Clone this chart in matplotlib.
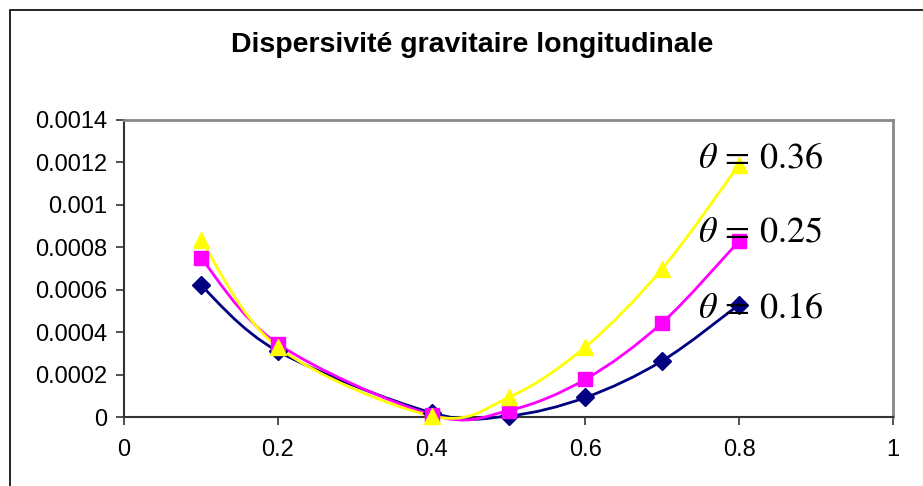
import numpy as np
import matplotlib
matplotlib.use("Agg")
import matplotlib.pyplot as plt
from matplotlib.patches import Rectangle
from matplotlib.path import Path
from matplotlib.patches import PathPatch

plt.rcParams['font.family'] = ['Liberation Sans', 'DejaVu Sans']
plt.rcParams['mathtext.fontset'] = 'stix'

title = "Dispersivité gravitaire longitudinale"
x_vals = [0.1, 0.2, 0.4, 0.5, 0.6, 0.7, 0.8]
y_016 = [0.00062, 0.00031, 0.00002, 0.000005, 0.000092, 0.000265, 0.00053]
y_025 = [0.00075, 0.000345, 0.00001, 0.00003, 0.000178, 0.000445, 0.00083]
y_036 = [0.000835, 0.00033, 0.000005, 0.000092, 0.00033, 0.0007, 0.00119]
labels = [r'$\theta\,=\,0.36$', r'$\theta\,=\,0.25$', r'$\theta\,=\,0.16$']
label_pos = [(0.746, 0.00122), (0.746, 0.000872), (0.746, 0.000515)]
x_ticks = [0, 0.2, 0.4, 0.6, 0.8, 1]
x_ticklabels = ["0", "0.2", "0.4", "0.6", "0.8", "1"]
y_ticks = [0, 0.0002, 0.0004, 0.0006, 0.0008, 0.001, 0.0012, 0.0014]
y_ticklabels = ["0", "0.0002", "0.0004", "0.0006", "0.0008", "0.001", "0.0012", "0.0014"]

fig = plt.figure(figsize=(9.23, 4.86), dpi=100)
fig.patches.append(Rectangle((10/923, -0.1), 1.2, 1 - 10/486 + 0.1, transform=fig.transFigure,
                             fill=False, edgecolor='black', linewidth=1.2))
ax = fig.add_axes([124/923, (486-417)/486, (893-124)/923, (417-120)/486])
ax.set_xlim(0, 1)
ax.set_ylim(0, 0.0014)


def smooth_path(xs, ys, ax):
    # Excel-style Bezier smoothing computed in display-normalized space
    xs = np.asarray(xs, float)
    ys = np.asarray(ys, float)
    sx = 1.0 / (ax.get_xlim()[1] - ax.get_xlim()[0]) * 769
    sy = 1.0 / (ax.get_ylim()[1] - ax.get_ylim()[0]) * 297
    P = np.column_stack([xs * sx, ys * sy])
    n = len(P)
    verts = [P[0]]
    codes = [Path.MOVETO]
    for i in range(n - 1):
        p0 = P[i - 1] if i > 0 else P[i]
        p1 = P[i]
        p2 = P[i + 1]
        p3 = P[i + 2] if i + 2 < n else P[i + 1]
        c1 = p1 + (p2 - p0) / 6.0
        c2 = p2 - (p3 - p1) / 6.0
        verts += [c1, c2, p2]
        codes += [Path.CURVE4] * 3
    verts = np.array(verts)
    verts[:, 0] /= sx
    verts[:, 1] /= sy
    return Path(verts, codes)


series = [
    (y_016, '#000080', 'D', 9, 2.0),
    (y_025, '#FF00FF', 's', 10, 2.0),
    (y_036, '#FFFF00', '^', 12, 2.0),
]
for ys, col, mk, ms, lw in series:
    pp = PathPatch(smooth_path(x_vals, ys, ax), fill=False, edgecolor=col, linewidth=lw,
                   clip_on=False, zorder=3)
    ax.add_patch(pp)
for ys, col, mk, ms, lw in series:
    ax.plot(x_vals, ys, linestyle='none', marker=mk, markersize=ms, color=col,
            markeredgecolor=col, clip_on=False, zorder=4)

for (lx, ly), lab in zip(label_pos, labels):
    ax.text(lx, ly, lab, fontsize=26, ha='left', va='center', zorder=5)

ax.set_xticks(x_ticks)
ax.set_xticklabels(x_ticklabels)
ax.set_yticks(y_ticks)
ax.set_yticklabels(y_ticklabels)
ax.tick_params(axis='both', labelsize=17, direction='out', length=6, width=1.2, color='#333333')
ax.tick_params(axis='x', pad=10)
ax.tick_params(axis='y', pad=6)

for s in ['top', 'right']:
    ax.spines[s].set_color('#888888')
    ax.spines[s].set_linewidth(2)
for s in ['left', 'bottom']:
    ax.spines[s].set_color('#333333')
    ax.spines[s].set_linewidth(1.5)

fig.text(472/923, 1 - 45/486, title, ha='center', va='center', fontsize=20.5, fontweight='bold')

fig.savefig('out.png', dpi=100)
